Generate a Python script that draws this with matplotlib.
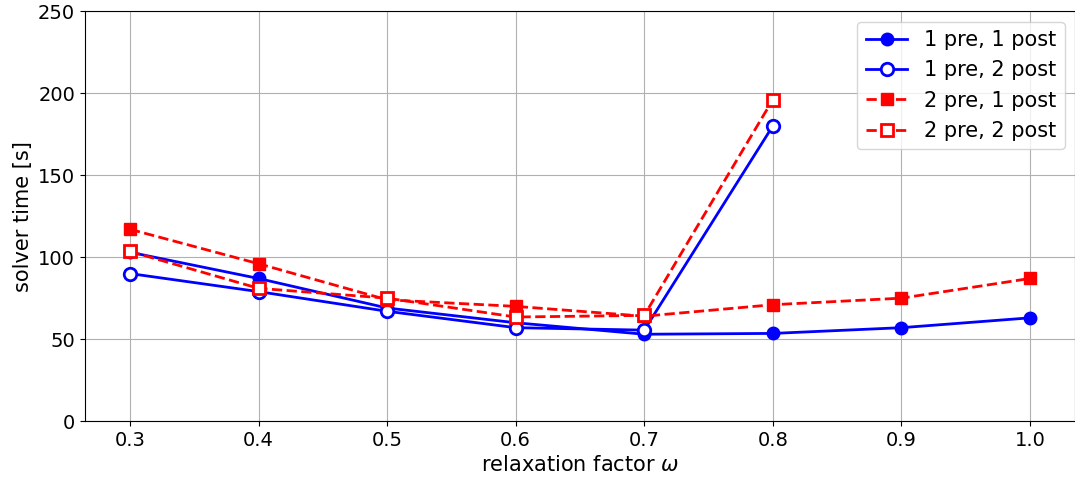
import numpy as np
import matplotlib.pyplot as plt

omega = [0.3, 0.4, 0.5, 0.6, 0.7, 0.8, 0.9, 1.0]
omega_short = [0.3, 0.4, 0.5, 0.6, 0.7, 0.8]

t_1pre_1post = [103, 87, 69, 60, 53, 53.5, 57, 63]
t_1pre_2post = [90, 79, 67, 57, 55.5, 180]
t_2pre_1post = [117, 96, 74, 70, 64, 71, 75, 87]
t_2pre_2post = [103.5, 81, 75, 63.5, 64.5, 196]

plt.rcParams['font.size'] = 14

fig, ax = plt.subplots(figsize=(10.75, 4.83), dpi=100)

ax.plot(omega, t_1pre_1post, '-', color='blue', marker='o', lw=2, ms=9,
        label='1 pre, 1 post')
ax.plot(omega_short, t_1pre_2post, '-', color='blue', marker='o', lw=2, ms=9,
        mfc='white', mew=2, label='1 pre, 2 post')
ax.plot(omega, t_2pre_1post, '--', color='red', marker='s', lw=2, ms=9,
        label='2 pre, 1 post')
ax.plot(omega_short, t_2pre_2post, '--', color='red', marker='s', lw=2, ms=9,
        mfc='white', mew=2, label='2 pre, 2 post')

ax.set_ylim(0, 250)
ax.set_xticks(omega)
ax.set_xlabel(r'relaxation factor $\omega$', fontsize=15)
ax.set_ylabel('solver time [s]', fontsize=15)
ax.grid(True, color='#b0b0b0')
ax.legend(loc='upper right', fontsize=15)

fig.subplots_adjust(left=0.079, right=1.0, top=0.977, bottom=0.128)
fig.savefig('out.png', dpi=100)
